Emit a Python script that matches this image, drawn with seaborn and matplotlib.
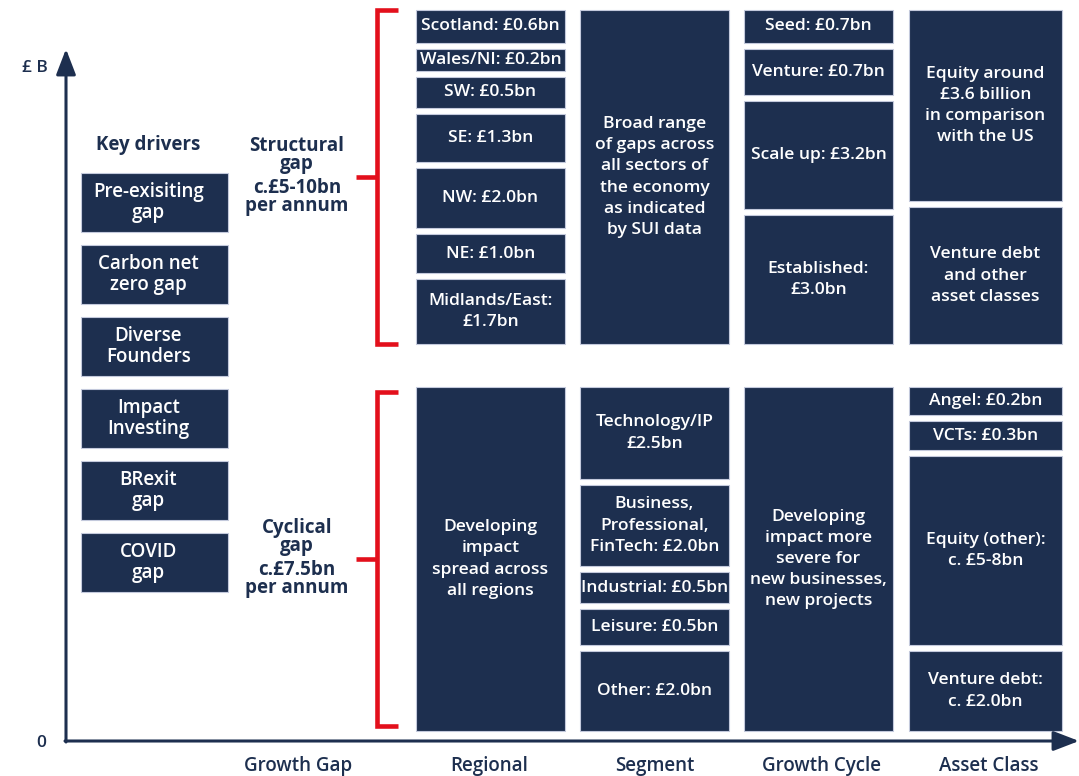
import numpy as np
import pandas as pd
import matplotlib
matplotlib.use("Agg")
import matplotlib.pyplot as plt
import seaborn as sns

# ---------------- data ----------------
COLUMNS = ["Growth Gap", "Regional", "Segment", "Growth Cycle", "Asset Class"]

KEY_DRIVERS = ["Pre-exisiting\ngap", "Carbon net\nzero gap", "Diverse\nFounders",
               "Impact\nInvesting", "BRexit\ngap", "COVID\ngap"]
KEY_SIZES = [59, 59, 59, 59, 59, 59]

# boxes listed top -> bottom within each group (structural = upper, cyclical = lower)
REGIONAL_STRUCT_LABELS = ["Scotland: £0.6bn", "Wales/NI: £0.2bn", "SW: £0.5bn", "SE: £1.3bn",
                          "NW: £2.0bn", "NE: £1.0bn", "Midlands/East:\n£1.7bn"]
REGIONAL_STRUCT_SIZES = [33, 22, 31, 48, 60, 39, 65]
REGIONAL_CYC_LABELS = ["Developing\nimpact\nspread across\nall regions"]
REGIONAL_CYC_SIZES = [344]

SEGMENT_STRUCT_LABELS = ["Broad range\nof gaps across\nall sectors of\nthe economy\nas indicated\nby SUI data"]
SEGMENT_STRUCT_SIZES = [334]
SEGMENT_CYC_LABELS = ["Technology/IP\n£2.5bn", "Business,\nProfessional,\nFinTech: £2.0bn",
                      "Industrial: £0.5bn", "Leisure: £0.5bn", "Other: £2.0bn"]
SEGMENT_CYC_SIZES = [92, 81, 31, 36, 80]

CYCLE_STRUCT_LABELS = ["Seed: £0.7bn", "Venture: £0.7bn", "Scale up: £3.2bn", "Established:\n£3.0bn"]
CYCLE_STRUCT_SIZES = [33, 46, 108, 129]
CYCLE_CYC_LABELS = ["Developing\nimpact more\nsevere for\nnew businesses,\nnew projects"]
CYCLE_CYC_SIZES = [344]

ASSET_STRUCT_LABELS = ["Equity around\n£3.6 billion\nin comparison\nwith the US",
                       "Venture debt\nand other\nasset classes"]
ASSET_STRUCT_SIZES = [191, 137]
ASSET_CYC_LABELS = ["Angel: £0.2bn", "VCTs: £0.3bn", "Equity (other):\nc. £5-8bn", "Venture debt:\nc. £2.0bn"]
ASSET_CYC_SIZES = [28, 29, 189, 80]

GAP_LABELS = ["Structural\ngap", "Cyclical\ngap"]
GAP_AMOUNTS = ["c.£5-10bn\nper annum", "c.£7.5bn\nper annum"]

# ---------------- style / layout ----------------
NAVY = "#1d2f4f"
EDGE = "#c3c9dc"
RED = "#e3101c"
W, H = 1079, 776
BASE = 10
BOX_GAP = 6
GROUP_GAP = 43
KEY_BASE = 149
KEY_GAP = 13

COL_LEFT = {"Regional": 350, "Segment": 514, "Growth Cycle": 678, "Asset Class": 843}
COL_WIDTH = {"Regional": 149, "Segment": 149, "Growth Cycle": 149, "Asset Class": 153}
TICK_POS = [232, 423, 589, 756, 923]
KEY_LEFT, KEY_WIDTH = 15, 147

sns.set_theme(style="white")
plt.rcParams["font.family"] = ["Open Sans", "DejaVu Sans"]

fig = plt.figure(figsize=(W / 100, H / 100), dpi=100)
ax = fig.add_axes([66 / W, 35 / H, (W - 66) / W, 741 / H])


def draw_box(left, width, bottom, height, label, fs, ls, text_dx=0):
    sns.barplot(x=[left + width / 2], y=[height], orient="x", native_scale=True,
                width=width, bottom=bottom, color=NAVY, saturation=1,
                edgecolor=EDGE, linewidth=0.8, errorbar=None, ax=ax)
    ax.text(left + width / 2 + text_dx, bottom + height / 2, label, ha="center", va="center",
            color="white", fontsize=fs, fontweight="semibold", linespacing=ls)


def draw_stack(left, width, start, labels, sizes, gap, fs, ls, text_dx=0):
    """labels/sizes listed top->bottom; stack from `start` upward."""
    y = start
    for lab, s in zip(labels[::-1], sizes[::-1]):
        draw_box(left, width, y, s, lab, fs, ls, text_dx)
        y += s + gap
    return y - gap


columns_data = {
    "Regional": (REGIONAL_STRUCT_LABELS, REGIONAL_STRUCT_SIZES, REGIONAL_CYC_LABELS, REGIONAL_CYC_SIZES),
    "Segment": (SEGMENT_STRUCT_LABELS, SEGMENT_STRUCT_SIZES, SEGMENT_CYC_LABELS, SEGMENT_CYC_SIZES),
    "Growth Cycle": (CYCLE_STRUCT_LABELS, CYCLE_STRUCT_SIZES, CYCLE_CYC_LABELS, CYCLE_CYC_SIZES),
    "Asset Class": (ASSET_STRUCT_LABELS, ASSET_STRUCT_SIZES, ASSET_CYC_LABELS, ASSET_CYC_SIZES),
}

lower_tops = []
for col, (sl, ss, cl, cs) in columns_data.items():
    lower_tops.append(BASE + sum(cs) + BOX_GAP * (len(cs) - 1))
upper_base = max(lower_tops) + GROUP_GAP
upper_tops = []
for col, (sl, ss, cl, cs) in columns_data.items():
    draw_stack(COL_LEFT[col], COL_WIDTH[col], BASE, cl, cs, BOX_GAP, 12.6, 1.42)
    upper_tops.append(draw_stack(COL_LEFT[col], COL_WIDTH[col], upper_base, sl, ss, BOX_GAP, 12.6, 1.42))

# key drivers
key_top = draw_stack(KEY_LEFT, KEY_WIDTH, KEY_BASE, KEY_DRIVERS, KEY_SIZES, KEY_GAP, 13.5, 1.05, -6)
ax.text(KEY_LEFT + 67, key_top + 28, "Key drivers", ha="center", va="center",
        color=NAVY, fontsize=13.5, fontweight="bold")

# brackets + gap labels
BR_X, BR_RIGHT, BR_TICK = 311.5, 332, 290
groups = [(upper_base, max(upper_tops)), (BASE + 5, max(lower_tops) - 5)]
for (lo, hi), glab, gamt in zip(groups, GAP_LABELS, GAP_AMOUNTS):
    ax.plot([BR_RIGHT, BR_X, BR_X, BR_RIGHT], [hi, hi, lo, lo], color=RED, lw=3.3,
            solid_joinstyle="miter", solid_capstyle="butt", clip_on=False)
    mid = (lo + hi) / 2
    ax.plot([BR_TICK, BR_X], [mid, mid], color=RED, lw=3.3, solid_capstyle="butt", clip_on=False)
    ax.text(231, mid + 22, glab, ha="center", va="center", color=NAVY, fontsize=13.5,
            fontweight="bold", linespacing=0.9)
    ax.text(231, mid - 20, gamt, ha="center", va="center", color=NAVY, fontsize=13.5,
            fontweight="bold", linespacing=0.9)

# axes arrows
arrow = dict(arrowstyle="-|>,head_length=1.3,head_width=0.5", lw=2.2, color=NAVY,
             shrinkA=0, shrinkB=0)
ax.annotate("", xy=(0, 692), xytext=(0, -1), arrowprops=arrow, annotation_clip=False)
ax.annotate("", xy=(W - 66, 0), xytext=(-1, 0), arrowprops=arrow, annotation_clip=False)
ax.text(-31, 673, "£ B", ha="center", va="center", color=NAVY, fontsize=12.5, fontweight="semibold")

ax.set_xlim(0, W - 66)
ax.set_ylim(0, 741)
ax.set_xticks(TICK_POS)
ax.set_xticklabels(COLUMNS)
ax.set_yticks([0])
ax.set_yticklabels(["0"])
ax.tick_params(axis="x", length=0, pad=11, labelsize=13.5, labelcolor=NAVY)
ax.tick_params(axis="y", length=0, pad=14, labelsize=12.5, labelcolor=NAVY)
for lab in ax.get_xticklabels() + ax.get_yticklabels():
    lab.set_fontweight("semibold")
ax.set_xlabel("")
ax.set_ylabel("")
for s in ax.spines.values():
    s.set_visible(False)
ax.grid(False)

fig.savefig("out.png", dpi=100)
